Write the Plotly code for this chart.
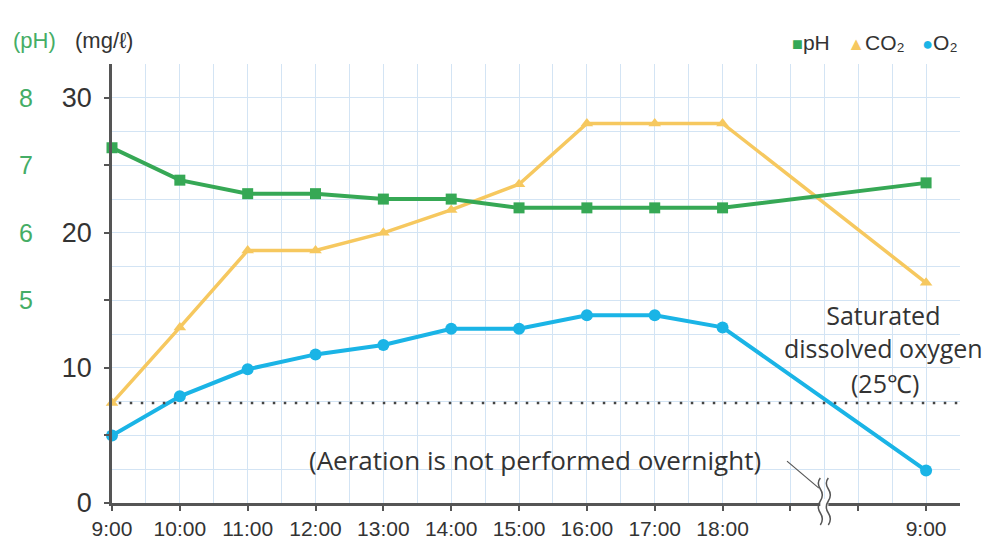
import plotly.graph_objects as go

# ---- data ----
time_labels = ["9:00", "10:00", "11:00", "12:00", "13:00", "14:00", "15:00",
               "16:00", "17:00", "18:00", "9:00"]
ph_values = [7.26, 6.78, 6.58, 6.58, 6.5, 6.5, 6.37, 6.37, 6.37, 6.37, 6.74]
co2_values = [7.4, 13.0, 18.7, 18.7, 20.0, 21.7, 23.6, 28.1, 28.1, 28.1, 16.3]
o2_values = [5.0, 7.9, 9.9, 11.0, 11.7, 12.9, 12.9, 13.9, 13.9, 13.0, 2.4]
saturated_do = 7.4          # mg/l at 25 C
mg_ticks = [0, 5, 10, 15, 20, 25, 30]
mg_ticktext = ["0", "", "10", "", "20", "", "30"]
ph_ticks = [5, 6, 7, 8]

# axis break: overnight gap occupies two extra slots
n_day = len(time_labels) - 1
x_pos = list(range(n_day)) + [n_day + 2]
break_pos = n_day + 0.5
x_tickvals = list(range(n_day + 3))
x_ticktext = time_labels[:n_day] + ["", ""] + [time_labels[-1]]
x_range = [0, n_day + 2.5]
mg_range = [0, 32.5]
ph_range = [2, 2 + mg_range[1] / 5]  # pH 8 <-> 30 mg/l

GREEN = "#36a855"
YELLOW = "#f6c85f"
CYAN = "#1ab4e6"
PH_TXT = "#45ad66"
AXIS = "#555555"
GRID = "#d3e4f4"
TXT = "#333333"
NUM_FONT = "Liberation Sans"
TXT_FONT = "Open Sans"

fig = go.Figure()
fig.add_trace(go.Scatter(x=x_pos, y=co2_values, mode="lines+markers", name="CO₂",
                         line=dict(color=YELLOW, width=3.5),
                         marker=dict(symbol="triangle-up", size=11, color=YELLOW),
                         cliponaxis=False, showlegend=False))
fig.add_trace(go.Scatter(x=x_pos, y=o2_values, mode="lines+markers", name="O₂",
                         line=dict(color=CYAN, width=4),
                         marker=dict(symbol="circle", size=12, color=CYAN),
                         cliponaxis=False, showlegend=False))
fig.add_trace(go.Scatter(x=x_pos, y=ph_values, mode="lines+markers", name="pH",
                         yaxis="y3",
                         line=dict(color=GREEN, width=4),
                         marker=dict(symbol="square", size=11, color=GREEN),
                         cliponaxis=False, showlegend=False))
# saturated dissolved oxygen line
fig.add_trace(go.Scatter(x=[0.1, x_range[1]], y=[saturated_do, saturated_do], mode="lines",
                         line=dict(color="#444444", width=2.5, dash="2.5px,8.5px"),
                         showlegend=False, hoverinfo="skip"))

fig.update_layout(
    width=995, height=543,
    margin=dict(l=104, r=43, t=56, b=48),
    plot_bgcolor="white", paper_bgcolor="white",
    showlegend=False,
    xaxis=dict(range=x_range, tickvals=x_tickvals, ticktext=x_ticktext, automargin=False,
               showline=True, linecolor=AXIS, linewidth=2.5,
               ticks="outside", ticklen=5, tickwidth=2, tickcolor=AXIS,
               showgrid=True, gridcolor=GRID, gridwidth=1,
               minor=dict(dtick=0.5, tick0=0, showgrid=True, gridcolor=GRID, gridwidth=1),
               zeroline=False,
               tickfont=dict(family=NUM_FONT, size=21, color=TXT)),
    xaxis2=dict(range=x_range, overlaying="x", anchor="y", side="bottom", automargin=False,
                tickvals=x_tickvals[1:], showticklabels=False,
                ticks="inside", ticklen=5, tickwidth=2, tickcolor=AXIS,
                showgrid=False, zeroline=False, showline=False),
    yaxis=dict(range=mg_range, tickvals=mg_ticks, ticktext=mg_ticktext, automargin=False,
               showline=True, linecolor=AXIS, linewidth=2.5,
               ticks="outside", ticklen=5, tickwidth=2, tickcolor=AXIS,
               showgrid=True, gridcolor=GRID, gridwidth=1,
               minor=dict(dtick=2.5, tick0=0, showgrid=True, gridcolor=GRID, gridwidth=1),
               zeroline=False, ticklabelstandoff=7,
               tickfont=dict(family=NUM_FONT, size=27, color=TXT)),
    yaxis2=dict(range=mg_range, overlaying="y", anchor="x", side="left", automargin=False,
                tickvals=mg_ticks[1:], showticklabels=False,
                ticks="inside", ticklen=5, tickwidth=2, tickcolor=AXIS,
                showgrid=False, zeroline=False, showline=False),
    yaxis3=dict(range=ph_range, overlaying="y", anchor="free", position=0, side="left",
                automargin=False,
                tickvals=ph_ticks, ticks="", showgrid=False, zeroline=False,
                showline=False, ticklabelstandoff=79,
                tickfont=dict(family=NUM_FONT, size=25, color=PH_TXT)),
)

# axis unit labels
fig.add_annotation(xref="paper", yref="paper", x=0, y=1, xanchor="center", yanchor="middle",
                   xshift=-8, yshift=24, showarrow=False, text="(mg/ℓ)",
                   font=dict(family=NUM_FONT, size=22, color=TXT))
fig.add_annotation(xref="paper", yref="paper", x=0, y=1, xanchor="center", yanchor="middle",
                   xshift=-78, yshift=24, showarrow=False, text="(pH)",
                   font=dict(family=NUM_FONT, size=22, color=PH_TXT))
# legend
SP = "\u00a0\u00a0\u00a0"
legend_text = (f"<span style='color:{GREEN};font-size:18px'>■</span>pH{SP}"
               f"<span style='color:{YELLOW};font-size:18px'>▲</span>CO₂{SP}"
               f"<span style='color:{CYAN};font-size:18px'>●</span>O₂")
fig.add_annotation(xref="paper", yref="paper", x=1, y=1, xanchor="right", yanchor="middle",
                   yshift=22, showarrow=False, text=legend_text,
                   font=dict(family=NUM_FONT, size=21, color=TXT))
# text notes
fig.add_annotation(x=11.37, y=12.7, text="Saturated<br>dissolved oxygen", showarrow=False,
                   font=dict(family=TXT_FONT, size=25, color=TXT))
fig.add_annotation(x=11.4, y=8.9, text="(25℃)", showarrow=False,
                   font=dict(family=TXT_FONT, size=25, color=TXT))
fig.add_annotation(x=6.24, y=3.2, text="(Aeration is not performed overnight)", showarrow=False,
                   font=dict(family=TXT_FONT, size=26, color=TXT))
# pointer to the axis break
fig.add_shape(type="line", xref="x", yref="y", x0=9.95, y0=3.1, x1=10.42, y1=1.1,
              line=dict(color="#555555", width=1.2))
# axis break symbol
wave = "M {a},-22 Q {b},-16 {a},-10 Q {c},-4 {a},2 Q {b},8 {a},14 Q {c},20 {a},25"
fig.add_shape(type="rect", xref="x", yref="paper", xsizemode="pixel", ysizemode="pixel",
              xanchor=break_pos, yanchor=0, x0=-4, x1=4, y0=-4, y1=4,
              fillcolor="white", line=dict(width=0))
for dx in (-4, 4):
    fig.add_shape(type="path", xref="x", yref="paper", xsizemode="pixel", ysizemode="pixel",
                  xanchor=break_pos, yanchor=0,
                  path=wave.format(a=dx, b=dx + 4, c=dx - 4),
                  line=dict(color="#555555", width=1.5))

fig.write_html("out.html")
